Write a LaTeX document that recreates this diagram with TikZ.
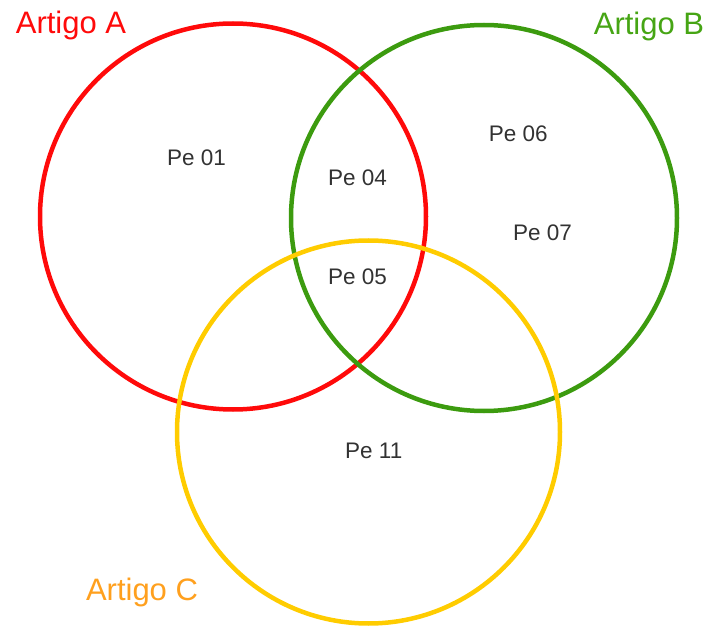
\documentclass[tikz,border=0pt]{standalone}
\usepackage{fontspec}
\setmainfont{Liberation Sans}
\definecolor{cred}{RGB}{255,10,10}
\definecolor{cgreen}{RGB}{60,155,15}
\definecolor{cyellow}{RGB}{255,204,0}
\definecolor{tgreen}{RGB}{70,165,20}
\definecolor{torange}{RGB}{255,160,30}
\definecolor{tgray}{RGB}{50,50,50}
\tikzset{
  ring/.style={line width=4.5pt},
  pe/.style={anchor=base, inner sep=0pt, text=tgray, font=\fontsize{22.5}{27}\selectfont},
  title/.style={anchor=base, inner sep=0pt, font=\fontsize{31}{36}\selectfont}
}
\begin{document}
\begin{tikzpicture}[x=1pt,y=-1pt]
\useasboundingbox (0,0) rectangle (705,631);
\draw[ring, cred] (233,216.5) circle[radius=193];
\draw[ring, cgreen] (484,218) circle[radius=193];
\draw[ring, cyellow] (368.5,432) circle[radius=191.5];
\node[title, text=cred] (ta) at (71,34) {Artigo A};
\node[title, text=tgreen] (tb) at (649,35) {Artigo B};
\node[title, text=torange] (tc) at (142,600) {Artigo C};
\node[pe] (p01) at (196.5,166) {Pe 01};
\node[pe] (p04) at (357.5,186) {Pe 04};
\node[pe] (p05) at (357.5,285) {Pe 05};
\node[pe] (p06) at (518.3,141.7) {Pe 06};
\node[pe] (p07) at (542.5,241) {Pe 07};
\node[pe] (p11) at (373.8,458) {Pe 11};
\end{tikzpicture}
\end{document}
